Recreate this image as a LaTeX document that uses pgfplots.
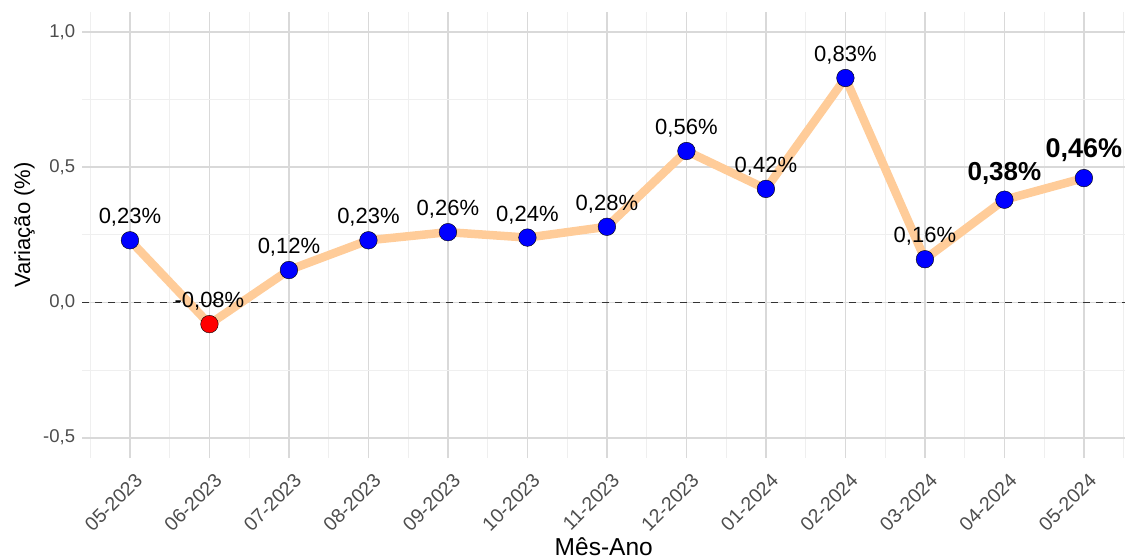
\documentclass[border=0pt]{standalone}
\usepackage{fontspec}
\setmainfont{Liberation Sans}
\usepackage{pgfplots}
\pgfplotsset{compat=1.18}

\definecolor{gridmaj}{HTML}{D9D9D9}
\definecolor{gridmin}{HTML}{EFEFEF}
\definecolor{ticktxt}{HTML}{4D4D4D}
\definecolor{linecol}{HTML}{FFCC99}
\definecolor{zeroline}{HTML}{333333}

\begin{document}
\begin{tikzpicture}
\begin{axis}[
  scale only axis, width=1043pt, height=446.25pt,
  at={(0,0)}, anchor=south west,
  xmin=-0.6, xmax=12.52, ymin=-0.575, ymax=1.075,
  axis line style={draw=none},
  major tick length=0pt, minor tick length=0pt,
  xtick={0,...,12},
  xticklabels={05-2023,06-2023,07-2023,08-2023,09-2023,10-2023,11-2023,12-2023,01-2024,02-2024,03-2024,04-2024,05-2024},
  minor xtick={-0.5,0.5,1.5,2.5,3.5,4.5,5.5,6.5,7.5,8.5,9.5,10.5,11.5,12.5},
  ytick={-0.5,0,0.5,1},
  yticklabels={{-0,5},{0,0},{0,5},{1,0}},
  minor ytick={-0.25,0.25,0.75},
  grid=both,
  major grid style={draw=gridmaj, line width=1.6pt},
  minor grid style={draw=gridmin, line width=0.9pt},
  tick label style={font=\fontsize{18.5}{20}\selectfont, text=ticktxt},
  yticklabel style={anchor=east, inner sep=0pt, xshift=-7pt},
  xticklabel style={font=\fontsize{19.5}{21}\selectfont, anchor=north east, inner sep=0pt, xshift=4pt, yshift=-14pt, rotate=45},
  xlabel={Mês-Ano}, ylabel={Variação (\%)},
  xlabel style={font=\fontsize{24.5}{27}\selectfont, at={(axis description cs:0.5,0)}, anchor=base, yshift=-97pt},
  ylabel style={font=\fontsize{22}{25}\selectfont, at={(axis description cs:0,0.522)}, anchor=base, yshift=52pt},
  clip=false,
]
\addplot[zeroline, line width=1.9pt, dash pattern=on 7pt off 6pt] coordinates {(-0.6,0) (12.52,0)};
\addplot[linecol, line width=8.5pt, line join=round] coordinates {
(0,0.23) (1,-0.08) (2,0.12) (3,0.23) (4,0.26) (5,0.24) (6,0.28) (7,0.56) (8,0.42) (9,0.83) (10,0.16) (11,0.38) (12,0.46)};
\addplot[only marks, mark=*, mark size=8.8pt, mark options={draw=none, fill=blue}] coordinates {
(0,0.23) (2,0.12) (3,0.23) (4,0.26) (5,0.24) (6,0.28) (7,0.56) (8,0.42) (9,0.83) (10,0.16) (11,0.38) (12,0.46)};
\addplot[only marks, mark=*, mark size=8.8pt, mark options={draw=none, fill=red}] coordinates {(1,-0.08)};
\addplot[draw=none, mark=none, point meta=explicit symbolic, nodes near coords,
  every node near coord/.append style={anchor=base, inner sep=0pt, yshift=16.5pt, text=black, font=\fontsize{22}{24}\selectfont}]
  coordinates {
(0,0.23) [0,23\%]
(1,-0.08) [-0,08\%]
(2,0.12) [0,12\%]
(3,0.23) [0,23\%]
(4,0.26) [0,26\%]
(5,0.24) [0,24\%]
(6,0.28) [0,28\%]
(7,0.56) [0,56\%]
(8,0.42) [0,42\%]
(9,0.83) [0,83\%]
(10,0.16) [0,16\%]
};
\addplot[draw=none, mark=none, point meta=explicit symbolic, nodes near coords,
  every node near coord/.append style={anchor=base, inner sep=0pt, yshift=19.5pt, text=black, font=\fontsize{26}{28}\selectfont\bfseries}]
  coordinates {(11,0.38) [0,38\%]};
\addplot[draw=none, mark=none, point meta=explicit symbolic, nodes near coords,
  every node near coord/.append style={anchor=base, inner sep=0pt, yshift=21pt, text=black, font=\fontsize{27}{29}\selectfont\bfseries}]
  coordinates {(12,0.46) [0,46\%]};
\end{axis}
\pgfresetboundingbox
\useasboundingbox (-82.25pt,-100pt) rectangle (1042.75pt,458pt);
\end{tikzpicture}
\end{document}
